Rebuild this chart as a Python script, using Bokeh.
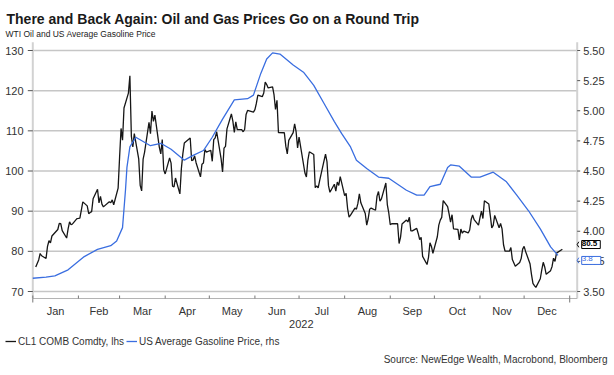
import math
import pandas as pd
from bokeh.plotting import figure
from bokeh.models import Range1d, Legend, LegendItem
from bokeh.core.properties import value
from bokeh.embed import file_html
from bokeh.resources import INLINE

FONT = "Liberation Sans"
TXT = "#333333"

# ---------------- data ----------------
title_text = "There and Back Again: Oil and Gas Prices Go on a Round Trip"
subtitle_text = "WTI Oil and US Average Gasoline Price"
source_text = "Source: NewEdge Wealth, Macrobond, Bloomberg"
year_label = "2022"
wti_name = "CL1 COMB Comdty, lhs"
gas_name = "US Average Gasoline Price, rhs"

month_names = ["Jan", "Feb", "Mar", "Apr", "May", "Jun",
               "Jul", "Aug", "Sep", "Oct", "Nov", "Dec"]
lhs_ticks = [70, 80, 90, 100, 110, 120, 130]
rhs_ticks = [3.50, 3.75, 4.00, 4.25, 4.50, 4.75, 5.00, 5.25, 5.50]

wti_md = [
    "01-03", "01-04", "01-05", "01-06", "01-07", "01-10", "01-11", "01-12", "01-13", "01-14",
    "01-18", "01-19", "01-20", "01-21", "01-24", "01-25", "01-26", "01-27", "01-28", "01-31",
    "02-01", "02-02", "02-03", "02-04", "02-07", "02-08", "02-09", "02-10", "02-11", "02-14",
    "02-15", "02-16", "02-17", "02-18", "02-22", "02-23", "02-24", "02-25", "02-28",
    "03-01", "03-02", "03-03", "03-04", "03-07", "03-08", "03-09", "03-10", "03-11", "03-14",
    "03-15", "03-16", "03-17", "03-18", "03-21", "03-22", "03-23", "03-24", "03-25", "03-28",
    "03-29", "03-30", "03-31",
    "04-01", "04-04", "04-05", "04-06", "04-07", "04-08", "04-11", "04-12", "04-13", "04-14",
    "04-18", "04-19", "04-20", "04-21", "04-22", "04-25", "04-26", "04-27", "04-28", "04-29",
    "05-02", "05-03", "05-04", "05-05", "05-06", "05-09", "05-10", "05-11", "05-12", "05-13",
    "05-16", "05-17", "05-18", "05-19", "05-20", "05-23", "05-24", "05-25", "05-26", "05-27",
    "05-31",
    "06-01", "06-02", "06-03", "06-06", "06-07", "06-08", "06-09", "06-10", "06-13", "06-14",
    "06-15", "06-16", "06-17", "06-21", "06-22", "06-23", "06-24", "06-27", "06-28", "06-29",
    "06-30",
    "07-01", "07-05", "07-06", "07-07", "07-08", "07-11", "07-12", "07-13", "07-14", "07-15",
    "07-18", "07-19", "07-20", "07-21", "07-22", "07-25", "07-26", "07-27", "07-28", "07-29",
    "08-01", "08-02", "08-03", "08-04", "08-05", "08-08", "08-09", "08-10", "08-11", "08-12",
    "08-15", "08-16", "08-17", "08-18", "08-19", "08-22", "08-23", "08-24", "08-25", "08-26",
    "08-29", "08-30", "08-31",
    "09-01", "09-02", "09-06", "09-07", "09-08", "09-09", "09-12", "09-13", "09-14", "09-15",
    "09-16", "09-19", "09-20", "09-21", "09-22", "09-23", "09-26", "09-27", "09-28", "09-29",
    "09-30",
    "10-03", "10-04", "10-05", "10-06", "10-07", "10-10", "10-11", "10-12", "10-13", "10-14",
    "10-17", "10-18", "10-19", "10-20", "10-21", "10-24", "10-25", "10-26", "10-27", "10-28",
    "10-31",
    "11-01", "11-02", "11-03", "11-04", "11-07", "11-08", "11-09", "11-10", "11-11", "11-14",
    "11-15", "11-16", "11-17", "11-18", "11-21", "11-22", "11-23", "11-25", "11-28", "11-29",
    "11-30",
    "12-01", "12-02", "12-05", "12-06", "12-07", "12-08", "12-09", "12-12", "12-13", "12-14",
    "12-15", "12-16", "12-19", "12-20", "12-21", "12-22", "12-23", "12-27",
]
wti_vals = [
    76.08, 76.99, 77.85, 79.46, 78.90, 78.23, 81.22, 82.64, 82.12, 83.82,
    85.43, 86.96, 86.90, 85.14, 83.31, 85.60, 87.35, 86.61, 86.82, 88.15,
    88.20, 88.26, 90.27, 92.31, 91.32, 89.36, 89.66, 89.88, 93.10, 95.46,
    92.07, 93.66, 91.76, 91.07, 92.35, 92.10, 92.81, 91.59, 95.72,
    103.41, 110.60, 107.67, 115.68, 119.40, 123.70, 108.70, 106.02, 109.33, 103.01,
    96.44, 95.04, 102.98, 104.70, 112.12, 109.27, 114.93, 112.34, 113.90, 105.96,
    104.24, 107.82, 100.28,
    99.27, 103.28, 101.96, 96.23, 96.03, 98.26, 94.29, 100.60, 104.25, 106.95,
    108.21, 102.56, 102.75, 103.79, 102.07, 98.54, 101.70, 102.02, 105.36, 104.69,
    105.17, 102.41, 107.81, 108.26, 109.77, 103.09, 99.76, 105.71, 106.13, 110.49,
    114.20, 112.40, 109.59, 112.21, 110.28, 110.29, 109.77, 110.33, 114.09, 115.07,
    114.67,
    115.26, 116.87, 118.87, 118.50, 119.41, 122.11, 121.51, 120.67, 120.93, 118.93,
    115.31, 117.59, 109.56, 109.52, 106.19, 104.27, 107.62, 109.57, 111.76, 109.78,
    105.76,
    108.43, 99.50, 98.53, 102.73, 104.79, 104.09, 95.84, 96.30, 95.78, 97.59,
    102.60, 104.22, 102.26, 96.35, 94.70, 96.70, 94.98, 97.26, 96.42, 98.62,
    93.89, 94.42, 90.66, 88.54, 89.01, 90.76, 90.50, 91.93, 94.34, 92.09,
    89.41, 86.53, 88.11, 90.50, 90.77, 90.23, 93.74, 94.89, 92.52, 93.06,
    97.01, 91.64, 89.55,
    86.61, 86.87, 86.88, 81.94, 83.54, 86.79, 87.78, 87.31, 88.48, 85.10,
    85.11, 85.73, 84.45, 82.94, 83.49, 78.74, 76.71, 78.50, 82.15, 81.23,
    79.49,
    83.63, 86.52, 87.76, 88.45, 92.64, 91.13, 89.35, 87.27, 89.11, 85.61,
    85.46, 82.82, 85.55, 84.51, 85.05, 84.58, 85.32, 87.91, 89.08, 87.90,
    86.53,
    88.37, 90.00, 88.17, 92.61, 91.79, 88.91, 85.83, 86.47, 88.96, 85.87,
    86.92, 85.59, 81.64, 80.08, 80.04, 80.95, 77.94, 76.28, 77.24, 78.20,
    80.55,
    81.22, 79.98, 76.93, 74.25, 72.01, 71.46, 71.02, 73.17, 75.39, 77.28,
    76.11, 74.29, 75.19, 76.23, 78.29, 77.49, 79.56, 80.50,
]

gas_md = [
    "01-01", "01-10", "01-16", "01-25", "02-05", "02-14", "02-23", "02-27",
    "03-03", "03-05", "03-06", "03-08", "03-12", "03-22", "03-29",
    "04-05", "04-14", "04-20", "04-27", "05-03", "05-10", "05-18", "05-27", "05-31",
    "06-05", "06-09", "06-13", "06-18", "06-27", "07-04", "07-11", "07-18", "07-25", "07-30",
    "08-05", "08-09", "08-16", "08-24", "08-31", "09-06", "09-12", "09-19", "09-24", "09-28",
    "10-05", "10-10", "10-12", "10-18", "10-26", "11-01", "11-10", "11-19", "11-26",
    "12-04", "12-12", "12-19", "12-24",
]
gas_vals = [
    3.61, 3.62, 3.63, 3.68, 3.79, 3.85, 3.88, 3.92,
    4.03, 4.34, 4.53, 4.70, 4.78, 4.71, 4.73,
    4.68, 4.59, 4.63, 4.67, 4.78, 4.93, 5.09, 5.10, 5.13,
    5.31, 5.43, 5.48, 5.47, 5.38, 5.32, 5.21, 5.06, 4.91, 4.81,
    4.70, 4.59, 4.52, 4.45, 4.44, 4.39, 4.34, 4.30, 4.30, 4.37,
    4.39, 4.53, 4.55, 4.54, 4.45, 4.45, 4.49, 4.41, 4.30,
    4.17, 4.02, 3.87, 3.80,
]

# ---------------- layout geometry (pixels on the canvas) ----------------
W, H = 612, 372
chart_left_px = 32.3      # left axis position
chart_right_px = 576.7    # right axis position
chart_top_px = 41.7
chart_bottom_px = 298.0
px_per_day = 1.471
lhs_ref_val, lhs_ref_px, px_per_lhs = 130.0, 50.0, 4.0167

def rhs_of(l):
    return 3.5 + (l - 70.0) / 30.0

day = pd.Timedelta(days=1)
x0 = pd.Timestamp("2022-01-01")
x_lo = x0 - day * (chart_left_px / px_per_day)
x_hi = x0 + day * ((W - chart_left_px) / px_per_day)
x_axis_end = x0 + day * ((chart_right_px - chart_left_px) / px_per_day)

def lhs_at(px):
    return lhs_ref_val - (px - lhs_ref_px) / px_per_lhs

y_top, y_bot = lhs_at(0), lhs_at(H)
lhs_hi, lhs_lo = lhs_at(chart_top_px), lhs_at(chart_bottom_px)

wti_x = pd.to_datetime([year_label + "-" + d for d in wti_md])
gas_x = pd.to_datetime([year_label + "-" + d for d in gas_md])
month_starts = pd.date_range("2022-01-01", "2023-01-01", freq="MS")
mid_months = [month_starts[i] + (month_starts[i + 1] - month_starts[i]) / 2 for i in range(12)]
year_mid = month_starts[0] + (month_starts[-1] - month_starts[0]) / 2

p = figure(width=W, height=H, x_range=Range1d(x_lo, x_hi), y_range=Range1d(y_bot, y_top),
           x_axis_location=None, y_axis_location=None, min_border=0,
           output_backend="svg", toolbar_location=None, title=None,
           background_fill_color="white", border_fill_color="white")
p.outline_line_color = None
p.grid.visible = False
p.extra_y_ranges = {"rhs": Range1d(rhs_of(y_bot), rhs_of(y_top))}

black = "#161616"
blue = "#3a6ee0"
grid_c = "#c6c6c6"
axis_c = "#d2d2d2"
tick_c = "#555555"

# horizontal gridlines at the left-axis ticks
p.segment(x0=[x0] * len(lhs_ticks), x1=[x_axis_end] * len(lhs_ticks),
          y0=lhs_ticks, y1=lhs_ticks, line_color=grid_c, line_width=1.5)
# axis lines
p.segment(x0=[x0, x_axis_end], x1=[x0, x_axis_end], y0=[lhs_lo, lhs_lo], y1=[lhs_hi, lhs_hi],
          line_color=axis_c, line_width=2)
p.segment(x0=[x0], x1=[x_axis_end], y0=[lhs_lo], y1=[lhs_lo], line_color="#b4b4b4", line_width=1)
# tick marks
p.ray(x=[x0] * len(lhs_ticks), y=lhs_ticks, length=5, length_units="screen", angle=math.pi,
      line_color=tick_c, line_width=1)
p.ray(x=[x_axis_end] * len(rhs_ticks), y=rhs_ticks, y_range_name="rhs", length=3,
      length_units="screen", angle=0, line_color=tick_c, line_width=1)
p.ray(x=list(month_starts), y=[lhs_lo] * len(month_starts), length=3, length_units="screen",
      angle=math.pi / 2, line_color="#777777", line_width=1)
p.ray(x=[month_starts[0], month_starts[-1]], y=[lhs_lo, lhs_lo], length=4, length_units="screen",
      angle=-math.pi / 2, line_color="#777777", line_width=1)

# tick labels
p.text(x=[x0] * len(lhs_ticks), y=lhs_ticks, text=[str(t) for t in lhs_ticks], x_offset=-9.3,
       text_align="right", text_baseline="middle", text_font=value(FONT),
       text_font_size=value("11px"), text_color=TXT)
p.text(x=[x_axis_end] * len(rhs_ticks), y=rhs_ticks, y_range_name="rhs",
       text=[f"{t:.2f}" for t in rhs_ticks], x_offset=6, text_align="left",
       text_baseline="middle", text_font=value(FONT), text_font_size=value("11px"), text_color=TXT)
p.text(x=mid_months, y=[lhs_lo] * 12, text=month_names, y_offset=12, text_align="center",
       text_baseline="middle", text_font=value(FONT), text_font_size=value("11px"), text_color=TXT)
p.text(x=[year_mid], y=[lhs_lo], text=[year_label], y_offset=25.5, text_align="center",
       text_baseline="middle", text_font=value(FONT), text_font_size=value("11px"), text_color=TXT)

# series
r_wti = p.line(wti_x, wti_vals, line_color=black, line_width=1.3)
r_gas = p.line(gas_x, gas_vals, line_color=blue, line_width=1.3, y_range_name="rhs")

# titles and source
p.text(x=[x0], y=[lhs_hi], text=[title_text], x_offset=6 - chart_left_px, y_offset=-23.7,
       text_align="left", text_baseline="alphabetic", text_font=value(FONT),
       text_font_size=value("14px"), text_font_style="bold", text_color="#1a1a1a")
p.text(x=[x0], y=[lhs_hi], text=[subtitle_text], x_offset=5 - chart_left_px, y_offset=-8.4,
       text_align="left", text_baseline="alphabetic", text_font=value(FONT),
       text_font_size=value("8.5px"), text_color="#222222")
p.text(x=[x_axis_end], y=[lhs_lo], text=[source_text], x_offset=607 - chart_right_px,
       y_offset=60.5, text_align="right", text_baseline="middle", text_font=value(FONT),
       text_font_size=value("10px"), text_color=TXT)

# legend
legend = Legend(items=[LegendItem(label=wti_name, renderers=[r_wti]),
                       LegendItem(label=gas_name, renderers=[r_gas])],
                orientation="horizontal", location=(5, 25),
                label_text_font=FONT, label_text_font_size="10px", label_text_color=TXT,
                glyph_width=11, glyph_height=12, label_height=12, label_standoff=2,
                spacing=2, padding=0, margin=0, border_line_color=None,
                background_fill_alpha=0)
p.add_layout(legend)

# end-value call-outs
wti_off, gas_off = -4.8, 5.1
p.text(x=[x_axis_end], y=[wti_vals[-1]], text=[f"{wti_vals[-1]:.1f}"], x_offset=4.5,
       y_offset=wti_off, text_align="left", text_baseline="middle", text_font=value(FONT),
       text_font_size=value("8px"), text_font_style="bold", text_color="black",
       background_fill_color="white", border_line_color="black", border_line_width=1,
       padding=(0, 3, 0, 3))
p.text(x=[x_axis_end], y=[gas_vals[-1]], y_range_name="rhs", text=[f"{gas_vals[-1]:.1f}"],
       x_offset=4.5, y_offset=gas_off, text_align="left", text_baseline="middle",
       text_font=value(FONT), text_font_size=value("8px"), text_color=blue,
       background_fill_color="white", border_line_color=blue, border_line_width=1,
       padding=(0, 8, 0, 3))
# pointers
wti_tip = wti_vals[-1] - wti_off / px_per_lhs
gas_tip = gas_vals[-1] - gas_off / (px_per_lhs * 30.0)
for tip, col, rng in [(wti_tip, "black", "default"), (gas_tip, blue, "rhs")]:
    p.ray(x=[x_axis_end, x_axis_end], y=[tip, tip], y_range_name=rng, length=3.2,
          length_units="screen", angle=[math.pi / 3, -math.pi / 3], line_color=col, line_width=1)

open("out.html", "w").write(file_html(p, INLINE))
